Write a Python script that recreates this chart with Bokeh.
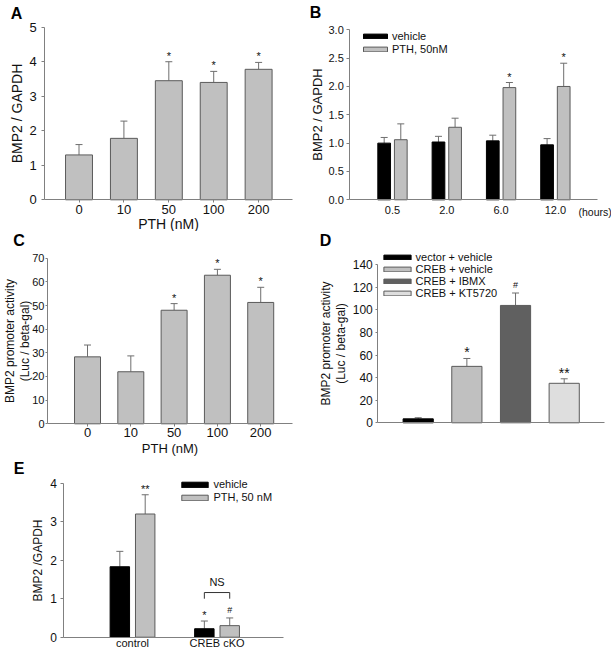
import numpy as np
from bokeh.plotting import figure
from bokeh.models import (Range1d, FixedTicker, Whisker, TeeHead, ColumnDataSource,
                          Legend, LegendItem, Label, NumeralTickFormatter)
from bokeh.layouts import column, row
from bokeh.core.properties import value
from bokeh.embed import file_html
from bokeh.resources import INLINE

FONT = "Liberation Sans"
AXIS = "#808080"
EDGE = "#5a5a5a"
ERR = "#6e6e6e"
GRAY = "#c0c0c0"
TXT = "#111111"

# ---------------- data ----------------
# Panel A
a_labels = ["0", "10", "50", "100", "200"]
a_values = [1.30, 1.78, 3.45, 3.40, 3.78]
a_errors = [0.30, 0.50, 0.55, 0.32, 0.20]
a_marks = ["", "", "*", "*", "*"]
a_yticks = [0, 1, 2, 3, 4, 5]

# Panel B
b_labels = ["0.5", "2.0", "6.0", "12.0"]
b_vehicle = [1.00, 1.02, 1.04, 0.97]
b_vehicle_err = [0.10, 0.10, 0.10, 0.11]
b_pth = [1.06, 1.28, 1.98, 2.00]
b_pth_err = [0.28, 0.16, 0.09, 0.41]
b_marks = ["", "", "*", "*"]
b_yticks = [0, 0.5, 1.0, 1.5, 2.0, 2.5, 3.0]

# Panel C
c_labels = ["0", "10", "50", "100", "200"]
c_values = [28.3, 22.0, 48.0, 62.8, 51.3]
c_errors = [5.0, 6.7, 2.8, 2.5, 6.4]
c_marks = ["", "", "*", "*", "*"]
c_yticks = [0, 10, 20, 30, 40, 50, 60, 70]

# Panel D
d_labels = ["vector + vehicle", "CREB + vehicle", "CREB + IBMX", "CREB + KT5720"]
d_values = [3.5, 50.0, 104.0, 35.0]
d_errors = [1.0, 7.0, 11.0, 4.0]
d_marks = ["", "*", "#", "**"]
d_yticks = [0, 20, 40, 60, 80, 100, 120, 140]

# Panel E
e_labels = ["control", "CREB cKO"]
e_vehicle = [1.83, 0.22]
e_vehicle_err = [0.40, 0.20]
e_pth = [3.20, 0.30]
e_pth_err = [0.50, 0.20]
e_vehicle_marks = ["", "*"]
e_pth_marks = ["**", "#"]
e_ns_level = 1.16
e_ns_drop = 0.16
e_yticks = [0, 1, 2, 3, 4]

# ---------------- styles ----------------
D_FILLS = ["#000000", "#c0c0c0", "#606060", "#dedede"]
D_LINES = ["#000000", EDGE, EDGE, EDGE]
MARK_STYLE = {"*": ("11px", 0), "**": ("11px", 0), "#": ("9px", -3)}


def make_fig(w, h, ax_x, ax_y, top_px, right_px, x0, x1, y1, yticks):
    """Frame covers the whole canvas; axes are placed at fixed data locations."""
    sx = (right_px - ax_x) / (x1 - x0)
    sy = (ax_y - top_px) / y1
    xr = Range1d(x0 - ax_x / sx, x1 + (w - right_px) / sx)
    yr = Range1d(-(h - ax_y) / sy, y1 + top_px / sy)
    p = figure(width=w, height=h, x_range=xr, y_range=yr,
               output_backend="svg", toolbar_location=None,
               min_border=0, min_border_left=0, min_border_right=0,
               min_border_top=0, min_border_bottom=0)
    p.outline_line_color = None
    p.grid.visible = False
    p.background_fill_color = "white"
    p.border_fill_color = "white"
    for ax in p.axis:
        ax.axis_line_color = AXIS
        ax.major_tick_line_color = AXIS
        ax.minor_tick_line_color = None
        ax.major_tick_in = 0
        ax.major_label_text_font = FONT
        ax.major_label_text_color = TXT
        ax.axis_label_text_font = FONT
        ax.axis_label_text_font_style = "normal"
        ax.axis_label_text_color = TXT
    p.yaxis.fixed_location = x0
    p.yaxis.bounds = (0, y1)
    p.xaxis.fixed_location = 0
    p.xaxis.bounds = (x0, x1)
    p.yaxis.ticker = FixedTicker(ticks=yticks)
    p.yaxis.major_tick_out = 3
    return p


def err_bars(p, x, top, err):
    src = ColumnDataSource(dict(x=list(x), lo=list(top),
                                hi=[t + e for t, e in zip(top, err)]))
    w = Whisker(source=src, base="x", lower="lo", upper="hi", dimension="height",
                line_color=ERR, line_width=1, lower_head=None,
                upper_head=TeeHead(size=7, line_color=ERR, line_width=1))
    p.add_layout(w)


def marks(p, x, top, err, txt, style=MARK_STYLE):
    xs = list(x)
    for key in sorted(set(txt)):
        if key == "":
            continue
        idx = [i for i, t in enumerate(txt) if t == key]
        size, off = style[key]
        p.text(x=[xs[i] for i in idx], y=[top[i] + err[i] for i in idx],
               text=[key] * len(idx), text_align="center", text_baseline="bottom",
               y_offset=off, text_font=value(FONT), text_font_size=size, text_color=TXT)


def panel_letter(p, txt, x, y):
    p.add_layout(Label(x=x, y=y, x_units="screen", y_units="screen", text=txt,
                       text_font=FONT, text_font_size="16px", text_font_style="bold",
                       text_align="center", text_baseline="middle", text_color="#000000"))


def legend(p, items, loc, gw, gh, lh, spacing, size):
    leg = Legend(items=items, location=loc, glyph_width=gw, glyph_height=gh,
                 label_height=lh, label_standoff=2, spacing=spacing, padding=0, margin=0,
                 label_text_font=FONT, label_text_font_size=size, label_text_color=TXT,
                 background_fill_alpha=0, border_line_color=None)
    p.add_layout(leg)


# ---------------- Panel A ----------------
ax_ = np.arange(len(a_labels))
pA = make_fig(300, 231, 44.3, 199.3, 26.7, 291.7, -0.762, 4.748, 5, a_yticks)
pA.vbar(x=ax_, top=a_values, width=0.6, fill_color=GRAY, line_color=EDGE)
err_bars(pA, ax_, a_values, a_errors)
marks(pA, ax_, a_values, a_errors, a_marks)
pA.xaxis.ticker = FixedTicker(ticks=list(ax_))
pA.xaxis.major_label_overrides = {int(i): l for i, l in zip(ax_, a_labels)}
pA.xaxis.major_label_text_font_size = "13px"
pA.xaxis.major_tick_out = 3
pA.xaxis.major_label_standoff = 2
pA.xaxis.axis_label = "PTH (nM)"
pA.xaxis.axis_label_text_font_size = "14px"
pA.xaxis.axis_label_standoff = -1
pA.yaxis.axis_label = "BMP2 / GAPDH"
pA.yaxis.axis_label_text_font_size = "14px"
pA.yaxis.major_label_text_font_size = "13px"
pA.yaxis.major_label_standoff = 5
pA.yaxis.axis_label_standoff = 1
panel_letter(pA, "A", 16, 218.5)

# ---------------- Panel B ----------------
bx = np.arange(len(b_labels))
boff, bw = 0.153, 0.234
pB = make_fig(311, 231, 49.3, 199.3, 29.3, 296.7, -0.786, 3.770, 3, b_yticks)
rv = pB.vbar(x=bx - boff, top=b_vehicle, width=bw, fill_color="black", line_color="black")
rp = pB.vbar(x=bx + boff, top=b_pth, width=bw, fill_color=GRAY, line_color=EDGE)
err_bars(pB, bx - boff, b_vehicle, b_vehicle_err)
err_bars(pB, bx + boff, b_pth, b_pth_err)
marks(pB, bx + boff, b_pth, b_pth_err, b_marks)
pB.xaxis.ticker = FixedTicker(ticks=list(bx))
pB.xaxis.major_label_overrides = {int(i): l for i, l in zip(bx, b_labels)}
pB.xaxis.major_label_text_font_size = "11px"
pB.xaxis.major_tick_out = 0
pB.xaxis.major_label_standoff = 6
pB.yaxis.formatter = NumeralTickFormatter(format="0.0")
pB.yaxis.major_label_text_font_size = "11px"
pB.yaxis.axis_label = "BMP2 / GAPDH"
pB.yaxis.axis_label_text_font_size = "13px"
pB.yaxis.major_label_standoff = 3
pB.yaxis.axis_label_standoff = 0
legend(pB, [LegendItem(label="vehicle", renderers=[rv]),
            LegendItem(label="PTH, 50nM", renderers=[rp])],
       (60, 176.5), 30, 6, 12, 1, "11px")
pB.add_layout(Label(x=278, y=20, x_units="screen", y_units="screen", text="(hours)",
                    text_font=FONT, text_font_size="10.5px", text_baseline="middle",
                    text_color=TXT))
panel_letter(pB, "B", 15, 219)

# ---------------- Panel C ----------------
cx = np.arange(len(c_labels))
pC = make_fig(300, 225, 47, 192.3, 26.7, 291.7, -0.924, 4.727, 70, c_yticks)
pC.vbar(x=cx, top=c_values, width=0.6, fill_color=GRAY, line_color=EDGE)
err_bars(pC, cx, c_values, c_errors)
marks(pC, cx, c_values, c_errors, c_marks)
pC.xaxis.ticker = FixedTicker(ticks=list(cx))
pC.xaxis.major_label_overrides = {int(i): l for i, l in zip(cx, c_labels)}
pC.xaxis.major_label_text_font_size = "13px"
pC.xaxis.major_tick_out = 3
pC.xaxis.major_label_standoff = 1
pC.xaxis.axis_label = "PTH (nM)"
pC.xaxis.axis_label_text_font_size = "13px"
pC.xaxis.axis_label_standoff = 1
pC.yaxis.axis_label = "BMP2 promoter activity\n(Luc / beta-gal)"
pC.yaxis.axis_label_text_font_size = "12px"
pC.yaxis.axis_label_text_line_height = 1.1
pC.yaxis.major_label_text_font_size = "11px"
pC.yaxis.major_tick_out = 2
pC.yaxis.major_label_standoff = 1
pC.yaxis.axis_label_standoff = -3
panel_letter(pC, "C", 18.5, 216)

# ---------------- Panel D ----------------
dx = np.arange(len(d_labels))
pD = make_fig(311, 225, 77.3, 191.3, 33.3, 304, -0.83, 3.828, 140, d_yticks)
srcD = ColumnDataSource(dict(x=dx, top=d_values, fill=D_FILLS, line=D_LINES))
rD = pD.vbar(x="x", top="top", width=0.62, fill_color="fill", line_color="line", source=srcD)
err_bars(pD, dx, d_values, d_errors)
marks(pD, dx, d_values, d_errors, d_marks,
      style={"*": ("14px", 2), "**": ("14px", 2), "#": ("9px", -3)})
pD.xaxis.ticker = FixedTicker(ticks=[])
pD.xaxis.major_tick_out = 0
pD.yaxis.axis_label = "BMP2 promoter activity\n(Luc / beta-gal)"
pD.yaxis.axis_label_text_font_size = "12px"
pD.yaxis.axis_label_text_line_height = 1.1
pD.yaxis.major_label_text_font_size = "12px"
pD.yaxis.major_tick_out = 2
pD.yaxis.major_label_standoff = 3
pD.yaxis.axis_label_standoff = 1
legend(pD, [LegendItem(label=l, renderers=[rD], index=i) for i, l in enumerate(d_labels)],
       (79.6, 157.3), 34, 6, 11, 0, "11px")
panel_letter(pD, "D", 25, 216)

# ---------------- Panel E ----------------
ex = np.arange(len(e_labels))
eoff, ew = 0.15, 0.23
pE = make_fig(300, 198, 63.3, 180.7, 26.7, 283.3, -0.813, 1.79, 4, e_yticks)
rve = pE.vbar(x=ex - eoff, top=e_vehicle, width=ew, fill_color="black", line_color="black")
rpe = pE.vbar(x=ex + eoff, top=e_pth, width=ew, fill_color=GRAY, line_color=EDGE)
err_bars(pE, ex - eoff, e_vehicle, e_vehicle_err)
err_bars(pE, ex + eoff, e_pth, e_pth_err)
marks(pE, ex - eoff, e_vehicle, e_vehicle_err, e_vehicle_marks)
marks(pE, ex + eoff, e_pth, e_pth_err, e_pth_marks)
k = len(e_labels) - 1
pE.multi_line(xs=[[k - eoff, k - eoff, k + eoff, k + eoff]],
              ys=[[e_ns_level - e_ns_drop, e_ns_level, e_ns_level, e_ns_level - e_ns_drop]],
              line_color="#333333", line_width=1)
pE.text(x=[k], y=[e_ns_level], text=["NS"], text_align="center", text_baseline="bottom",
        y_offset=-5, text_font=value(FONT), text_font_size="11px", text_color=TXT)
pE.xaxis.ticker = FixedTicker(ticks=list(ex))
pE.xaxis.major_label_overrides = {int(i): l for i, l in zip(ex, e_labels)}
pE.xaxis.major_label_text_font_size = "11px"
pE.xaxis.major_tick_out = 0
pE.xaxis.major_label_standoff = 0
pE.yaxis.axis_label = "BMP2 /GAPDH"
pE.yaxis.axis_label_text_font_size = "12px"
pE.yaxis.major_label_text_font_size = "12px"
pE.yaxis.major_label_standoff = 4
pE.yaxis.axis_label_standoff = 2
legend(pE, [LegendItem(label="vehicle", renderers=[rve]),
            LegendItem(label="PTH, 50 nM", renderers=[rpe])],
       (178.4, 151), 33, 7, 12, 1, "11px")
panel_letter(pE, "E", 18.5, 186.5)

layout = column(row(pA, pB), row(pC, pD), pE)
open("out.html", "w").write(file_html(layout, INLINE))
